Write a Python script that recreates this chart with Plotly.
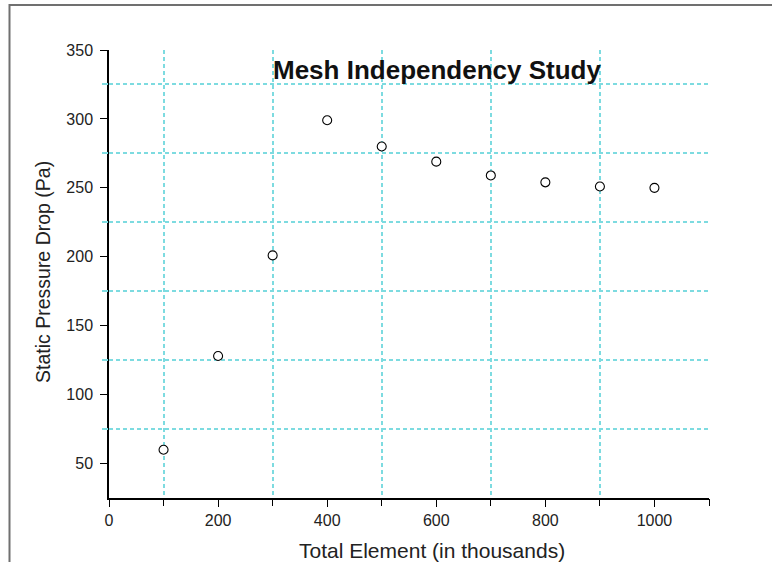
import plotly.graph_objects as go

# Mesh refinement results
total_elements = [100, 200, 300, 400, 500, 600, 700, 800, 900, 1000]   # thousands
pressure_drop = [60, 128, 201, 299, 280, 269, 259, 254, 251, 250]      # Pa

# Axis ticks and the offset grid lines
x_major = [0, 200, 400, 600, 800, 1000]
x_grid = [100, 300, 500, 700, 900, 1100]
y_major = [50, 100, 150, 200, 250, 300, 350]
y_grid = [75, 125, 175, 225, 275, 325]

W, H = 772, 562
L, R, T, B = 109, 63, 50, 64
plot_w = W - L - R
plot_h = H - T - B


def px_x(px):
    return (px - L) / plot_w


def px_y(py):
    return (H - B - py) / plot_h


fig = go.Figure()
fig.add_trace(go.Scatter(
    x=total_elements, y=pressure_drop, mode="markers",
    marker=dict(symbol="circle", size=9, color="white",
                line=dict(color="black", width=1.1)),
    showlegend=False,
))
# empty trace so the grid axes get drawn
fig.add_trace(go.Scatter(x=[None], y=[None], mode="markers",
                         showlegend=False, hoverinfo="skip",
                         xaxis="x2", yaxis="y2"))

grid_col = "#7DDBE0"
axis_font = dict(family="Liberation Sans, Arial", size=16, color="#222")
xr, yr = [0, 1100], [25, 350]

fig.update_layout(
    width=W, height=H,
    margin=dict(l=L, r=R, t=T, b=B),
    paper_bgcolor="white", plot_bgcolor="white",
    xaxis=dict(
        range=xr, tickvals=x_major,
        showgrid=False, zeroline=False,
        showline=True, linecolor="black", linewidth=1.5,
        ticks="outside", ticklen=7, tickwidth=1.3, tickcolor="black",
        tickfont=axis_font,
    ),
    yaxis=dict(
        range=yr, tickvals=y_major,
        showgrid=False, zeroline=False,
        showline=True, linecolor="black", linewidth=1.5,
        ticks="outside", ticklen=7, tickwidth=1.3, tickcolor="black",
        tickfont=axis_font, ticklabelstandoff=4,
    ),
    xaxis2=dict(
        range=xr, tickvals=x_grid, showticklabels=False, overlaying="x",
        side="bottom",
        showgrid=True, gridcolor=grid_col, griddash="4px,3px", gridwidth=1.5,
        zeroline=False, showline=False,
        ticks="outside", ticklen=7, tickwidth=1.3, tickcolor="black",
    ),
    yaxis2=dict(
        range=yr, tickvals=y_grid, showticklabels=False, overlaying="y",
        side="left",
        showgrid=True, gridcolor=grid_col, griddash="4px,3px", gridwidth=1.5,
        zeroline=False, showline=False,
        ticks="outside", ticklen=6, tickwidth=1.5, tickcolor=grid_col,
    ),
    annotations=[
        dict(text="<b>Mesh Independency Study</b>", xref="paper", yref="paper",
             x=px_x(437), y=px_y(70), xanchor="center", yanchor="middle",
             showarrow=False,
             font=dict(family="Liberation Sans, Arial", size=26, color="#111")),
        dict(text="Total Element (in thousands)", xref="paper", yref="paper",
             x=px_x(432), y=px_y(550), xanchor="center", yanchor="middle",
             showarrow=False,
             font=dict(family="Liberation Sans, Arial", size=21, color="#222")),
        dict(text="Static Pressure Drop (Pa)", xref="paper", yref="paper",
             x=px_x(43), y=px_y(272), xanchor="center", yanchor="middle",
             textangle=-90, showarrow=False,
             font=dict(family="Liberation Sans, Arial", size=19.5, color="#222")),
    ],
    shapes=[
        dict(type="rect", xref="paper", yref="paper",
             x0=px_x(9.5), x1=px_x(800), y0=px_y(600), y1=px_y(5),
             line=dict(color="#707070", width=2), fillcolor="rgba(0,0,0,0)",
             layer="above"),
    ],
)

fig.write_html("out.html")
